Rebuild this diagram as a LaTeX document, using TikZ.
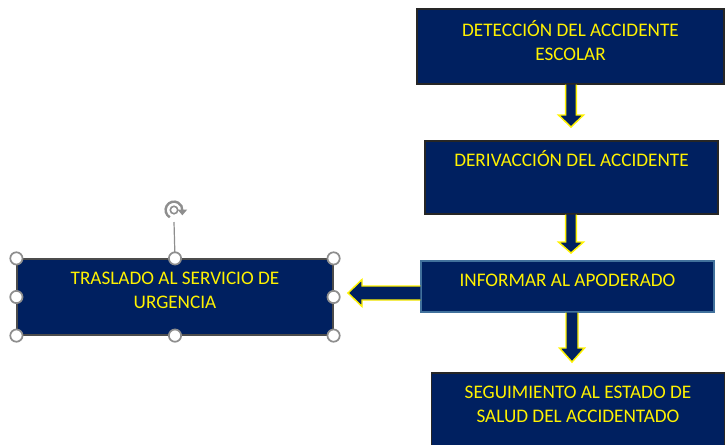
\documentclass[tikz,border=0pt]{standalone}
\usepackage{fontspec}
\setmainfont{Carlito}
\usetikzlibrary{calc}
\definecolor{navy}{HTML}{002060}
\definecolor{handlegray}{HTML}{8E8E8E}
\definecolor{lineblue}{HTML}{41719C}
\tikzset{
  box/.style={rectangle, fill=navy, draw=black!85, line width=0.9pt, inner sep=0pt},
  boxtext/.style={text=yellow, font=\fontsize{14.4pt}{18pt}\selectfont, align=center, inner sep=0pt},
  blockarrow/.style={fill=navy, draw=yellow, line width=1.1pt, line join=miter},
  handle/.style={draw=handlegray, fill=white, line width=1.3pt}
}

\begin{document}
\begin{tikzpicture}[x=0.75pt,y=-0.75pt]
            \useasboundingbox (0,0) rectangle (725,444);
            \clip (0,0) rectangle (725,444);

            % boxes of the flow
            \node[box, minimum width=230.25pt, minimum height=56.25pt] (det) at (570.5,46.5) {};
            \node[box, minimum width=219.75pt, minimum height=54.75pt] (deriv) at (571.5,177.5) {};
            \node[box, draw=lineblue, minimum width=219.75pt, minimum height=38.25pt] (inform) at (567.5,286.5) {};
            \node[box, minimum width=219.75pt, minimum height=55.5pt] (seguim) at (578,410) {};
            \node[box, draw=black!70, minimum width=237pt, minimum height=57pt] (traslado) at (175,297) {};

            % texts, set a little above the middle
            \node[boxtext] (det-txt) at ($(det.center)+(0,-5.5)$) {DETECCIÓN DEL ACCIDENTE\\ESCOLAR};
            \node[boxtext] (deriv-txt) at ($(deriv.center)+(0,-18.5)$) {DERIVACCIÓN DEL ACCIDENTE};
            \node[boxtext] (inform-txt) at ($(inform.center)+(0,-6.5)$) {INFORMAR AL APODERADO};
            \node[boxtext] (seguim-txt) at ($(seguim.center)+(0,-6)$) {SEGUIMIENTO AL ESTADO DE\\SALUD DEL ACCIDENTADO};
            \node[boxtext] (traslado-txt) at ($(traslado.center)+(0,-7)$) {TRASLADO AL SERVICIO DE\\URGENCIA};

            % tips of the block arrows
            \coordinate (tip1) at (571,127);
            \coordinate (tip2) at (571,253);
            \coordinate (tip3) at (572,362);
            \coordinate (tipL) at (348,293);

            % down arrows
            \draw[blockarrow] let \p1=(det.south), \p2=(tip1) in
              (\x2-4.1pt,\y1) -- (\x2-4.1pt,\y2+9pt) -- (\x2-9.4pt,\y2+9pt) -- (\x2,\y2)
              -- (\x2+9.4pt,\y2+9pt) -- (\x2+4.1pt,\y2+9pt) -- (\x2+4.1pt,\y1);
            \draw[blockarrow] let \p1=(deriv.south), \p2=(tip2) in
              (\x2-4.1pt,\y1) -- (\x2-4.1pt,\y2+8.25pt) -- (\x2-9.4pt,\y2+8.25pt) -- (\x2,\y2)
              -- (\x2+9.4pt,\y2+8.25pt) -- (\x2+4.1pt,\y2+8.25pt) -- (\x2+4.1pt,\y1);
            \draw[blockarrow] let \p1=(inform.south), \p2=(tip3) in
              (\x2-4.5pt,\y1) -- (\x2-4.5pt,\y2+10.5pt) -- (\x2-9.4pt,\y2+10.5pt) -- (\x2,\y2)
              -- (\x2+9.4pt,\y2+10.5pt) -- (\x2+4.5pt,\y2+10.5pt) -- (\x2+4.5pt,\y1);

            % left arrow
            \draw[blockarrow] let \p1=(inform.west), \p2=(tipL) in
              (\x1,\y2+5.25pt) -- (\x2+10.5pt,\y2+5.25pt) -- (\x2+10.5pt,\y2+10.1pt) -- (\x2,\y2)
              -- (\x2+10.5pt,\y2-10.1pt) -- (\x2+10.5pt,\y2-5.25pt) -- (\x1,\y2-5.25pt);

            % selection handles
            \coordinate (rot) at (174,210);
            \draw[handlegray, line width=0.9pt] (traslado.north) -- ($(rot)+(0,12)$);
            \draw[handlegray, line width=1.8pt] ([shift={(240:6.3pt)}]rot) arc[start angle=240, end angle=-5, radius=6.3pt];
            \fill[handlegray] ([shift={(-5:6.3pt)}]rot) ++(-3.6pt,0.8pt) -- ++(7.2pt,0) -- ++(-3.6pt,-4.2pt) -- cycle;
            \draw[handlegray, line width=1.2pt] (rot) circle[radius=2.8pt];
            \foreach \a in {north west,north,north east,east,south east,south,south west,west}
              \draw[handle] (traslado.\a) circle[radius=4.6pt];
\end{tikzpicture}
\end{document}
